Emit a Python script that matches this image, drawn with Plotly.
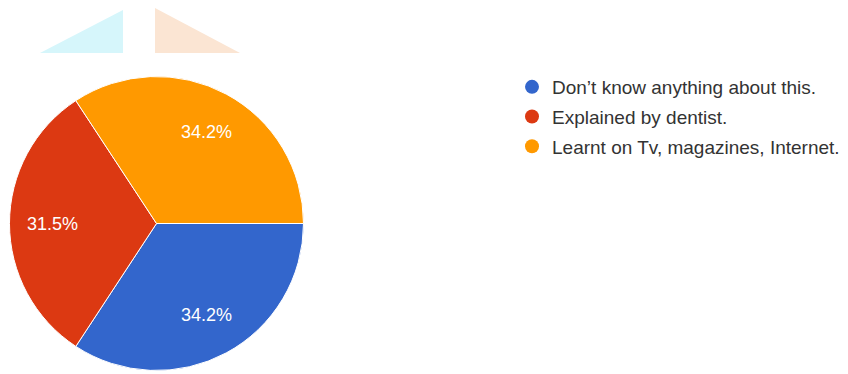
import math
import plotly.graph_objects as go

labels = ["Don’t know anything about this.", "Explained by dentist.", "Learnt on Tv, magazines, Internet."]
counts = [25, 23, 25]
colors = ["#3366cc", "#dc3912", "#ff9900"]

W, H = 848, 374
OFF = 8  # page body margin offset


def px(x):
    return (x - OFF) / W


def py(y):
    return 1 - (y - OFF) / H


# pie geometry (page pixels)
CX, CY, R = 156.5, 223.5, 147

fig = go.Figure()

fig.add_trace(go.Pie(
    labels=labels, values=counts, sort=False, direction="clockwise", rotation=90,
    marker=dict(colors=colors, line=dict(color="white", width=1)),
    textinfo="none", showlegend=False, hoverinfo="label+percent",
    domain=dict(x=[px(CX - R), px(CX + R)], y=[py(CY + R), py(CY - R)]),
))

# percentage labels placed at the slice mid-angles
total = sum(counts)
start = 0.0
for c in counts:
    frac = c / total
    mid = math.radians((start + frac / 2) * 360)
    start += frac
    lx = CX + 0.71 * R * math.cos(mid)
    ly = CY + 0.71 * R * math.sin(mid)
    fig.add_annotation(x=px(lx), y=py(ly), xref="paper", yref="paper",
                       xanchor="center", yanchor="middle",
                       text=f"{frac*100:.1f}%", showarrow=False,
                       font=dict(color="white", size=18, family="Liberation Sans"))

for lab, col in zip(labels, colors):
    fig.add_trace(go.Scatter(
        x=[None], y=[None], mode="markers", name=lab, legendgroup=lab,
        marker=dict(color=col, size=14, symbol="circle"), showlegend=True,
    ))

# faint decorative artifacts at the top
fig.add_shape(type="path", xref="paper", yref="paper",
              path=f"M {px(40)} {py(53)} L {px(123)} {py(10)} L {px(123)} {py(53)} Z",
              fillcolor="#d6f6fb", line=dict(width=0), layer="below")
fig.add_shape(type="path", xref="paper", yref="paper",
              path=f"M {px(155)} {py(8)} L {px(240)} {py(53)} L {px(155)} {py(53)} Z",
              fillcolor="#fbe5d3", line=dict(width=0), layer="below")

fig.update_layout(
    width=W, height=H,
    margin=dict(l=0, r=0, t=0, b=0),
    paper_bgcolor="white", plot_bgcolor="white",
    xaxis=dict(visible=False), yaxis=dict(visible=False),
    legend=dict(x=px(512), y=py(68), xanchor="left", yanchor="top",
                font=dict(size=19, color="#333333", family="Liberation Sans"),
                tracegroupgap=2, traceorder="grouped", itemwidth=30),
)

fig.write_html("out.html")
